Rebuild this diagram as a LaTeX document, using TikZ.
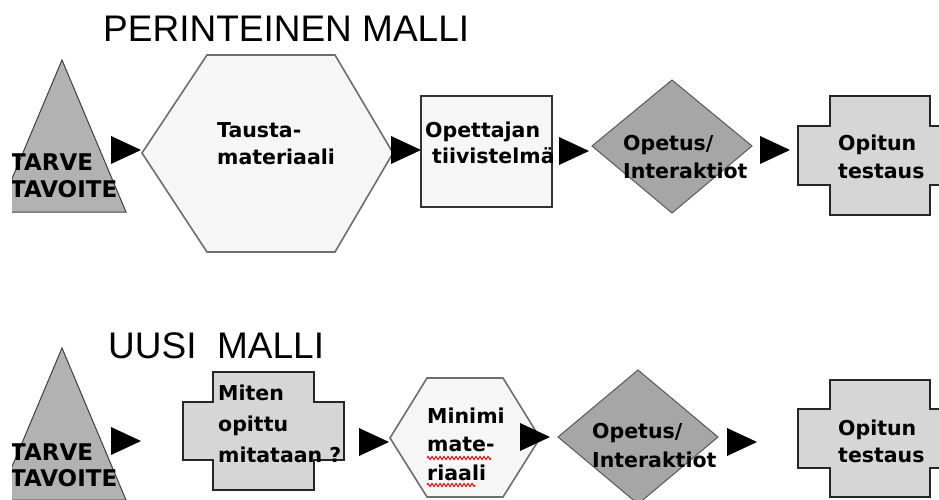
\documentclass[tikz,border=0pt]{standalone}
\usepackage{fontspec}
\setmainfont{DejaVu Sans}
\newfontfamily\headfont{Liberation Sans}
\usetikzlibrary{decorations.pathmorphing}

\definecolor{triGray}{RGB}{178,178,178}
\definecolor{diaGray}{RGB}{166,166,166}
\definecolor{crossGray}{RGB}{214,214,214}
\definecolor{paleGray}{RGB}{246,246,246}
\definecolor{hexLine}{RGB}{110,110,110}

% stacked lines with a fixed baseline distance; the box baseline is the first line
\newcommand\lns[2]{\vtop{\baselineskip=#1pt\relax #2}}

\begin{document}
\begin{tikzpicture}[x=1pt,y=-1pt,
  tri/.style={fill=triGray, draw=black!75, line width=1pt},
  hexa/.style={fill=paleGray, draw=hexLine, line width=1.6pt},
  sqr/.style={fill=paleGray, draw=black!80, line width=1.5pt},
  dia/.style={fill=diaGray, draw=black!65, line width=1pt},
  crs/.style={fill=crossGray, draw=black!85, line width=1.5pt},
  lbl/.style={anchor=base west, inner sep=0pt, font=\bfseries\fontsize{20.5}{24}\selectfont},
  biglbl/.style={anchor=base west, inner sep=0pt, font=\bfseries\fontsize{23}{26}\selectfont},
  heading/.style={anchor=base west, inner sep=0pt, font=\headfont\fontsize{37}{40}\selectfont},
  spell/.style={red!85!black, line width=0.9pt, decorate, decoration={zigzag, segment length=4pt, amplitude=1.6pt}},
  flow/.pic={\fill[black] (-15,-14) -- (15,0) -- (-15,14) -- cycle;}
]
\useasboundingbox (0,0) rectangle (939,500);
\fill[white] (0,0) rectangle (939,500);
\clip (0,0) rectangle (939,500);

% ---------- traditional model ----------
\node[heading] (title1) at (103,42) {PERINTEINEN MALLI};

\begin{scope}
  \clip (12,0) rectangle (939,500);
  \draw[tri] (62,60) -- (126,212) -- (-2,212) -- cycle;
  \node[biglbl] (need1) at (10,170) {\lns{27}{\hbox{TARVE}\hbox{TAVOITE}}};
\end{scope}
\pic at (126,150) {flow};

\draw[hexa] (142,153) -- (207,55) -- (335,55) -- (393,153) -- (335,252) -- (207,252) -- cycle;
\node[lbl] (bg1) at (217,138) {\lns{27}{\hbox{Tausta-}\hbox{materiaali}}};
\pic at (406,150) {flow};

\draw[sqr] (421,96) rectangle (552,207);
\node[lbl] (sum1) at (425,138) {\lns{25}{\hbox{Opettajan}\hbox{\kern7pt tiivistelmä}}};
\pic at (574,151) {flow};

\draw[dia] (592,146) -- (672,80) -- (752,146) -- (672,213) -- cycle;
\node[lbl] (teach1) at (623,150) {\lns{28}{\hbox{Opetus/}\hbox{Interaktiot}}};
\pic at (775,150) {flow};

\draw[crs] (830,96) -- (930,96) -- (930,126) -- (962,126) -- (962,185) -- (930,185)
  -- (930,215) -- (830,215) -- (830,185) -- (798,185) -- (798,126) -- (830,126) -- cycle;
\node[lbl] (test1) at (838,150) {\lns{28}{\hbox{Opitun}\hbox{testaus}}};

% ---------- new model ----------
\node[heading] (title2) at (108,358) {UUSI\ \ MALLI};

\begin{scope}
  \clip (12,0) rectangle (939,500);
  \draw[tri] (62,348) -- (126,500) -- (-2,500) -- cycle;
  \node[biglbl] (need2) at (10,460) {\lns{26}{\hbox{TARVE}\hbox{TAVOITE}}};
\end{scope}
\pic at (126,441) {flow};

\draw[crs] (213,372) -- (314,372) -- (314,402) -- (344,402) -- (344,460) -- (314,460)
  -- (314,490) -- (213,490) -- (213,460) -- (183,460) -- (183,402) -- (213,402) -- cycle;
\node[lbl] (measure) at (218,400) {\lns{31}{\hbox{Miten}\hbox{opittu}\hbox{mitataan ?}}};
\pic at (374,442) {flow};

\draw[hexa] (390,438) -- (427,378) -- (503,378) -- (540,438) -- (503,497) -- (427,497) -- cycle;
\node[lbl] (mini) at (427,423) {\lns{28.5}{\hbox{Minimi}\hbox{mate-}\hbox{riaali}}};
\draw[spell] (427,458) -- (491,458);
\draw[spell] (427,485) -- (475,485);
\pic at (535,437) {flow};

\draw[dia] (558,437) -- (638,370) -- (718,437) -- (638,504) -- cycle;
\node[lbl] (teach2) at (592,438) {\lns{29}{\hbox{Opetus/}\hbox{Interaktiot}}};
\pic at (742,442) {flow};

\draw[crs] (830,380) -- (930,380) -- (930,409) -- (962,409) -- (962,468) -- (930,468)
  -- (930,497) -- (830,497) -- (830,468) -- (798,468) -- (798,409) -- (830,409) -- cycle;
\node[lbl] (test2) at (838,435) {\lns{27}{\hbox{Opitun}\hbox{testaus}}};
\end{tikzpicture}
\end{document}
